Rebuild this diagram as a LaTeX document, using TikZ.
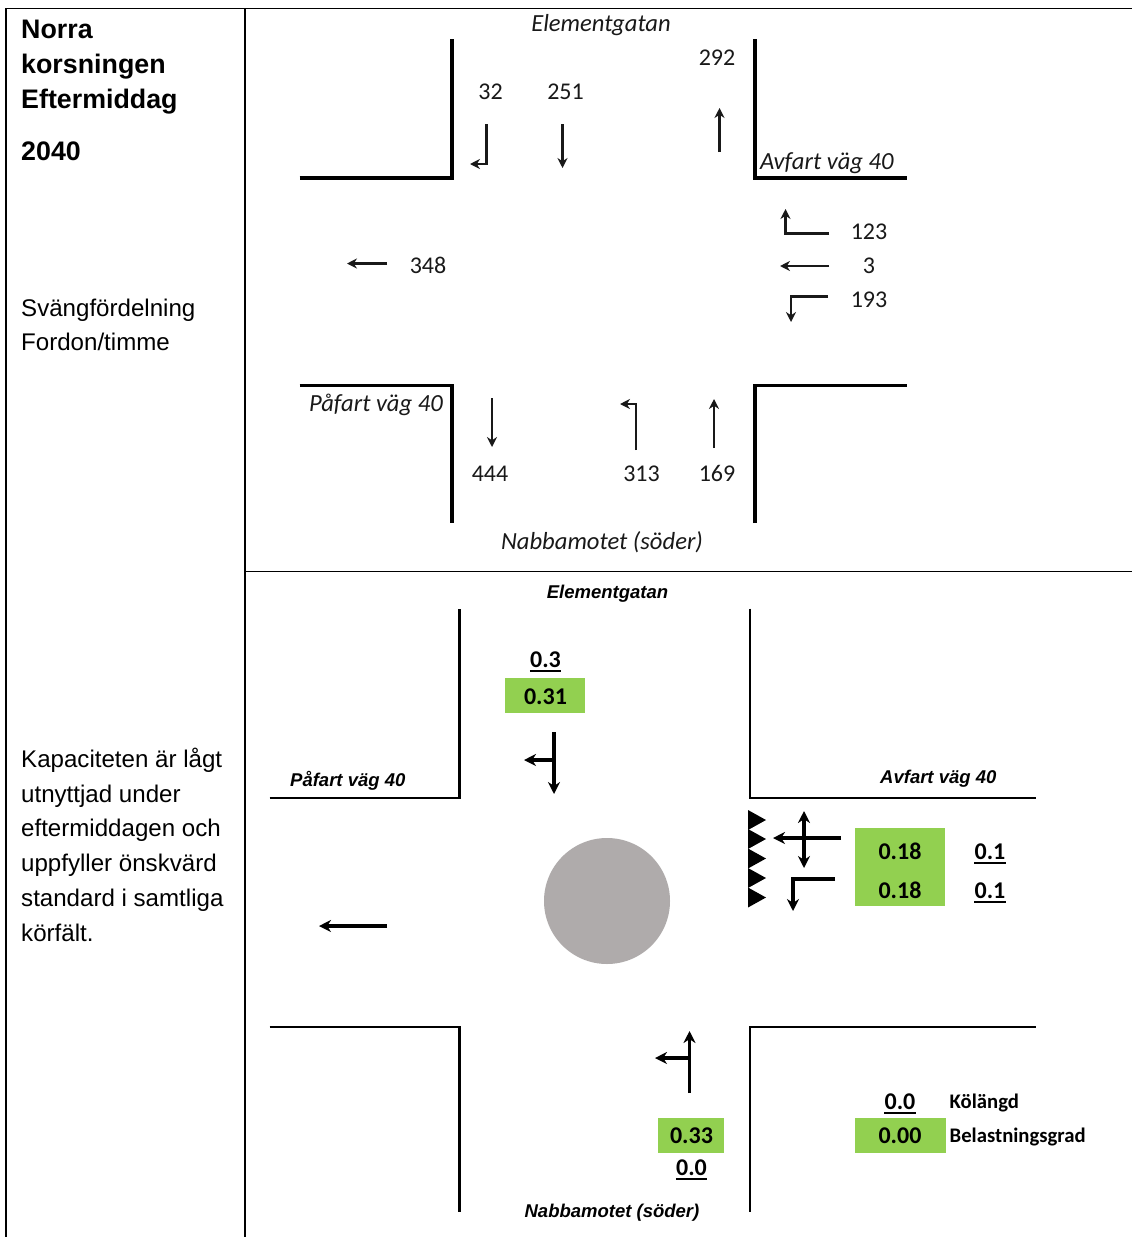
\documentclass[tikz,border=0pt]{standalone}
\usepackage{fontspec}
\setmainfont{Liberation Sans}
\newfontfamily\calfont{Carlito}
\usetikzlibrary{arrows.meta}
\definecolor{grn}{HTML}{92D050}
\definecolor{circ}{HTML}{AFABAB}
\tikzset{
 x=1pt,y=-1pt,
 grid/.style={line width=1.6pt,black},
 wallA/.style={line width=3.4pt,black,line cap=butt,line join=miter},
 wallB/.style={line width=2.3pt,black,line join=miter},
 arrA/.style={line width=2.2pt,black!90,-{Stealth[length=10pt,width=10pt]}},
 arrB/.style={line width=3.4pt,black,-{Stealth[length=12pt,width=12pt]}},
 stem/.style={line width=3.4pt,black},
 num/.style={font=\calfont\fontsize{24}{24}\selectfont,text=black!90,inner sep=0pt,anchor=center},
 itl/.style={font=\calfont\itshape\fontsize{24.6}{24.6}\selectfont,text=black!90,inner sep=0pt,anchor=center},
 bil/.style={font=\bfseries\itshape\fontsize{18.5}{18.5}\selectfont,inner sep=0pt,anchor=center},
 side/.style={font=\fontsize{24.1}{24.1}\selectfont,inner sep=0pt,anchor=base west},
 head/.style={font=\bfseries\fontsize{26.8}{26.8}\selectfont,inner sep=0pt,anchor=base west},
 val/.style={font=\calfont\bfseries\fontsize{24}{24}\selectfont,inner sep=0pt,anchor=center},
 ul/.style={line width=2.2pt,black},
 lab/.style={font=\calfont\bfseries\fontsize{20.7}{20.7}\selectfont,inner sep=0pt,anchor=west},
 grnbox/.style={fill=grn,draw=none},
}
\newcommand{\ulnode}[1]{\draw[ul] ([yshift=-3pt]#1.south west) -- ([yshift=-3pt]#1.south east);}
\begin{document}
\begin{tikzpicture}
\useasboundingbox (0,0) rectangle (1132,1237);
\fill[white] (0,0) rectangle (1132,1237);
% table grid
\draw[grid] (6,1237) -- (6,8.5) -- (1132,8.5);
\draw[grid] (245,8) -- (245,1237);
\draw[grid] (245,571.5) -- (1132,571.5);
% left column
\node[head] (t1) at (21,38) {Norra};
\node[head] (t2) at (21,73) {korsningen};
\node[head] (t3) at (21,108) {Eftermiddag};
\node[head] (t4) at (21,160) {2040};
\node[side] (s1) at (21,316) {Svängfördelning};
\node[side] (s2) at (21,350.5) {Fordon/timme};
\node[side] (k1) at (21,767) {Kapaciteten är lågt};
\node[side] (k2) at (21,802) {utnyttjad under};
\node[side] (k3) at (21,836.5) {eftermiddagen och};
\node[side] (k4) at (21,871) {uppfyller önskvärd};
\node[side] (k5) at (21,906) {standard i samtliga};
\node[side] (k6) at (21,941) {körfält.};
% upper diagram walls
\draw[wallA] (299.5,178) -- (452,178) -- (452,39);
\draw[wallA] (755,39) -- (755,178) -- (907,178);
\draw[wallA] (299.5,385.5) -- (452,385.5) -- (452,523);
\draw[wallA] (755,523) -- (755,385.5) -- (907,385.5);
% upper labels
\node[itl] (ue) at (601,25.5) {Elementgatan};
\node[itl,anchor=west] (ua) at (760,163) {Avfart väg 40};
\node[itl,anchor=east] (up) at (443,404.5) {Påfart väg 40};
\node[itl] (un) at (602,542) {Nabbamotet (söder)};
\node[num] (n32) at (490.5,91.5) {32};
\node[num] (n251) at (565.5,91.5) {251};
\node[num] (n292) at (717,57.5) {292};
\node[num] (n123) at (869,232) {123};
\node[num] (n3) at (869,265.5) {3};
\node[num] (n193) at (869,299.5) {193};
\node[num] (n348) at (428,265.5) {348};
\node[num] (n444) at (490,473.5) {444};
\node[num] (n313) at (641.5,473.5) {313};
\node[num] (n169) at (717,473.5) {169};
% upper arrows
\draw[arrA] (486.5,124) -- (486.5,164) -- (470,164);
\draw[arrA] (562.5,124) -- (562.5,168);
\draw[arrA] (719.5,152) -- (719.5,108);
\draw[arrA] (829,233.5) -- (785.5,233.5) -- (785.5,209);
\draw[arrA] (829,266) -- (780,266);
\draw[arrA] (828,296.5) -- (791,296.5) -- (791,322);
\draw[arrA] (387,263.5) -- (347,263.5);
\draw[arrA] (492,398) -- (492,447);
\draw[arrA] (636,450) -- (636,404) -- (620,404);
\draw[arrA] (714,448) -- (714,399);
% lower diagram walls
\draw[wallB] (269.5,798) -- (459.5,798) -- (459.5,608.5);
\draw[wallB] (750,608.5) -- (750,798) -- (1035.5,798);
\draw[wallB] (269.5,1027) -- (459.5,1027) -- (459.5,1211.5);
\draw[wallB] (750,1211.5) -- (750,1027) -- (1035.5,1027);
% roundabout
\fill[circ] (607,901) circle (63);
% lower labels
\node[bil] (le) at (607.5,593.5) {Elementgatan};
\node[bil,anchor=west] (lp) at (290,780.5) {Påfart väg 40};
\node[bil,anchor=west] (la) at (880,778.5) {Avfart väg 40};
\node[bil] (ln) at (612,1212.5) {Nabbamotet (söder)};
% give-way triangles
\foreach \yy in {820,839,858.5,878,897.5}
  \fill[black] (748,\yy-10) -- (766,\yy) -- (748,\yy+10) -- cycle;
% green boxes
\fill[grnbox] (505,678) rectangle (585,713);
\fill[grnbox] (854.5,828) rectangle (944.5,906);
\fill[grnbox] (658,1118) rectangle (724,1152.5);
\fill[grnbox] (854.5,1118) rectangle (945.5,1152.5);
% values
\node[val] (v1) at (545.5,659.5) {0.3};
\ulnode{v1}
\node[val] (v2) at (545.5,697) {0.31};
\node[val] (v3) at (900,851) {0.18};
\node[val] (v4) at (900,890) {0.18};
\node[val] (v5) at (990,851.5) {0.1};
\ulnode{v5}
\node[val] (v6) at (990,890.5) {0.1};
\ulnode{v6}
\node[val] (v7) at (691.5,1136) {0.33};
\node[val] (v8) at (691.5,1168) {0.0};
\ulnode{v8}
\node[val] (v9) at (900,1102) {0.0};
\ulnode{v9}
\node[val] (v10) at (900,1136) {0.00};
\node[lab] (l1) at (949.5,1103) {Kölängd};
\node[lab] (l2) at (949.5,1137) {Belastningsgrad};
% lower arrows
\draw[arrB] (554,732) -- (554,794);
\draw[arrB] (554,760) -- (524,760);
\draw[stem,{Stealth[length=12pt,width=12pt]}-{Stealth[length=12pt,width=12pt]}] (804,811) -- (804,868);
\draw[arrB] (841,838) -- (773,838);
\draw[arrB] (835,879) -- (793,879) -- (793,911);
\draw[arrB] (689.5,1093) -- (689.5,1031);
\draw[arrB] (689.5,1058) -- (655,1058);
\draw[arrB] (387,926) -- (319,926);
\end{tikzpicture}
\end{document}
